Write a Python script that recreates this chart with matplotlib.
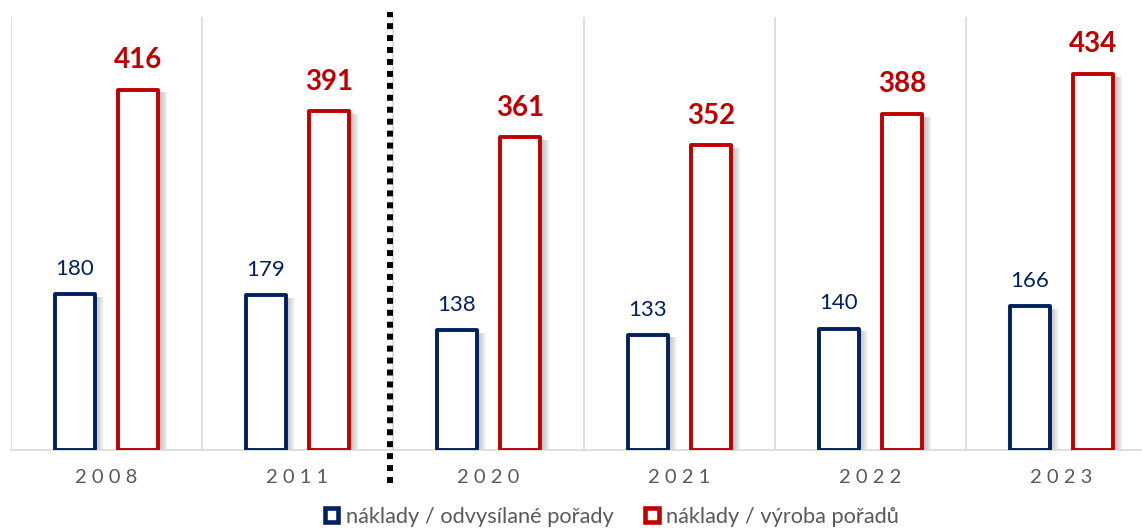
import matplotlib
matplotlib.use("Agg")
import matplotlib.pyplot as plt
from matplotlib.patches import Rectangle
from matplotlib.lines import Line2D
import numpy as np

years = ["2008", "2011", "2020", "2021", "2022", "2023"]
broadcast = [180, 179, 138, 133, 140, 166]
production = [416, 391, 361, 352, 388, 434]
series_names = ["náklady / odvysílané pořady", "náklady / výroba pořadů"]

BLUE = "#002060"
RED = "#C00000"
GRID = "#D9D9D9"
TXT = "#595959"

plt.rcParams['font.family'] = ['Lato', 'DejaVu Sans']

W, H = 1142, 528
fig = plt.figure(figsize=(W / 100, H / 100), dpi=100)
ax = fig.add_axes([11 / W, (H - 450) / H, 1131 / W, 433 / H])

n = len(years)
x = np.arange(n)
ax.set_xlim(-0.5, -0.5 + 1131 / 191)
ax.set_ylim(0, 500)

bw = 0.210
off = 0.167
px = 1 / 191.0  # one pixel in data units (x)

# soft shadows
for vals, sign in ((broadcast, -1), (production, 1)):
    for k in range(1, 11):
        ax.bar(x + sign * off + k * px * 0.9, np.array(vals) - 3, width=bw,
               color="#000000", alpha=0.03, linewidth=0, zorder=1)

ax.bar(x - off, broadcast, width=bw, facecolor="white", edgecolor=BLUE,
       linewidth=2.8, zorder=3, joinstyle="round")
ax.bar(x + off, production, width=bw, facecolor="white", edgecolor=RED,
       linewidth=2.8, zorder=3, joinstyle="round")

for i in range(n):
    ax.annotate(str(broadcast[i]), (x[i] - off, broadcast[i]), xytext=(0, 11),
                textcoords="offset points", ha="center", va="bottom",
                fontsize=16, color=BLUE, zorder=5)
    ax.annotate(str(production[i]), (x[i] + off, production[i]), xytext=(0, 12),
                textcoords="offset points", ha="center", va="bottom",
                fontsize=20, fontweight="bold", color=RED, zorder=5)

# vertical category gridlines
for b in np.arange(-0.5, n, 1.0):
    ax.axvline(b, color=GRID, linewidth=1.2, zorder=0)

for s in ("top", "right", "left"):
    ax.spines[s].set_visible(False)
ax.spines["bottom"].set_color(GRID)
ax.spines["bottom"].set_linewidth(1.2)
ax.spines["bottom"].set_zorder(2)
ax.set_yticks([])
ax.set_xticks(x, [" ".join(y) for y in years])
ax.tick_params(axis="x", length=0, pad=14, labelsize=14.5, labelcolor=TXT)

# dotted separator
fig.add_artist(Line2D([390 / W, 390 / W], [1 - 483 / H, 1 - 12 / H],
                      transform=fig.transFigure, color="black", linewidth=4.3,
                      linestyle=(0, (1, 1)), solid_capstyle="butt",
                      dash_capstyle="butt"))

handles = [Rectangle((0, 0), 1, 1, facecolor="white", edgecolor=BLUE, linewidth=3.3),
           Rectangle((0, 0), 1, 1, facecolor="white", edgecolor=RED, linewidth=3.3)]
fig.legend(handles, series_names, loc="center", bbox_to_anchor=(612 / W, 1 - 517 / H),
           ncol=2, frameon=False, fontsize=15.7, labelcolor=TXT, handlelength=0.62,
           handleheight=0.62, handletextpad=0.35, columnspacing=1.45,
           borderpad=0, borderaxespad=0)

fig.savefig("out.png", dpi=100)
